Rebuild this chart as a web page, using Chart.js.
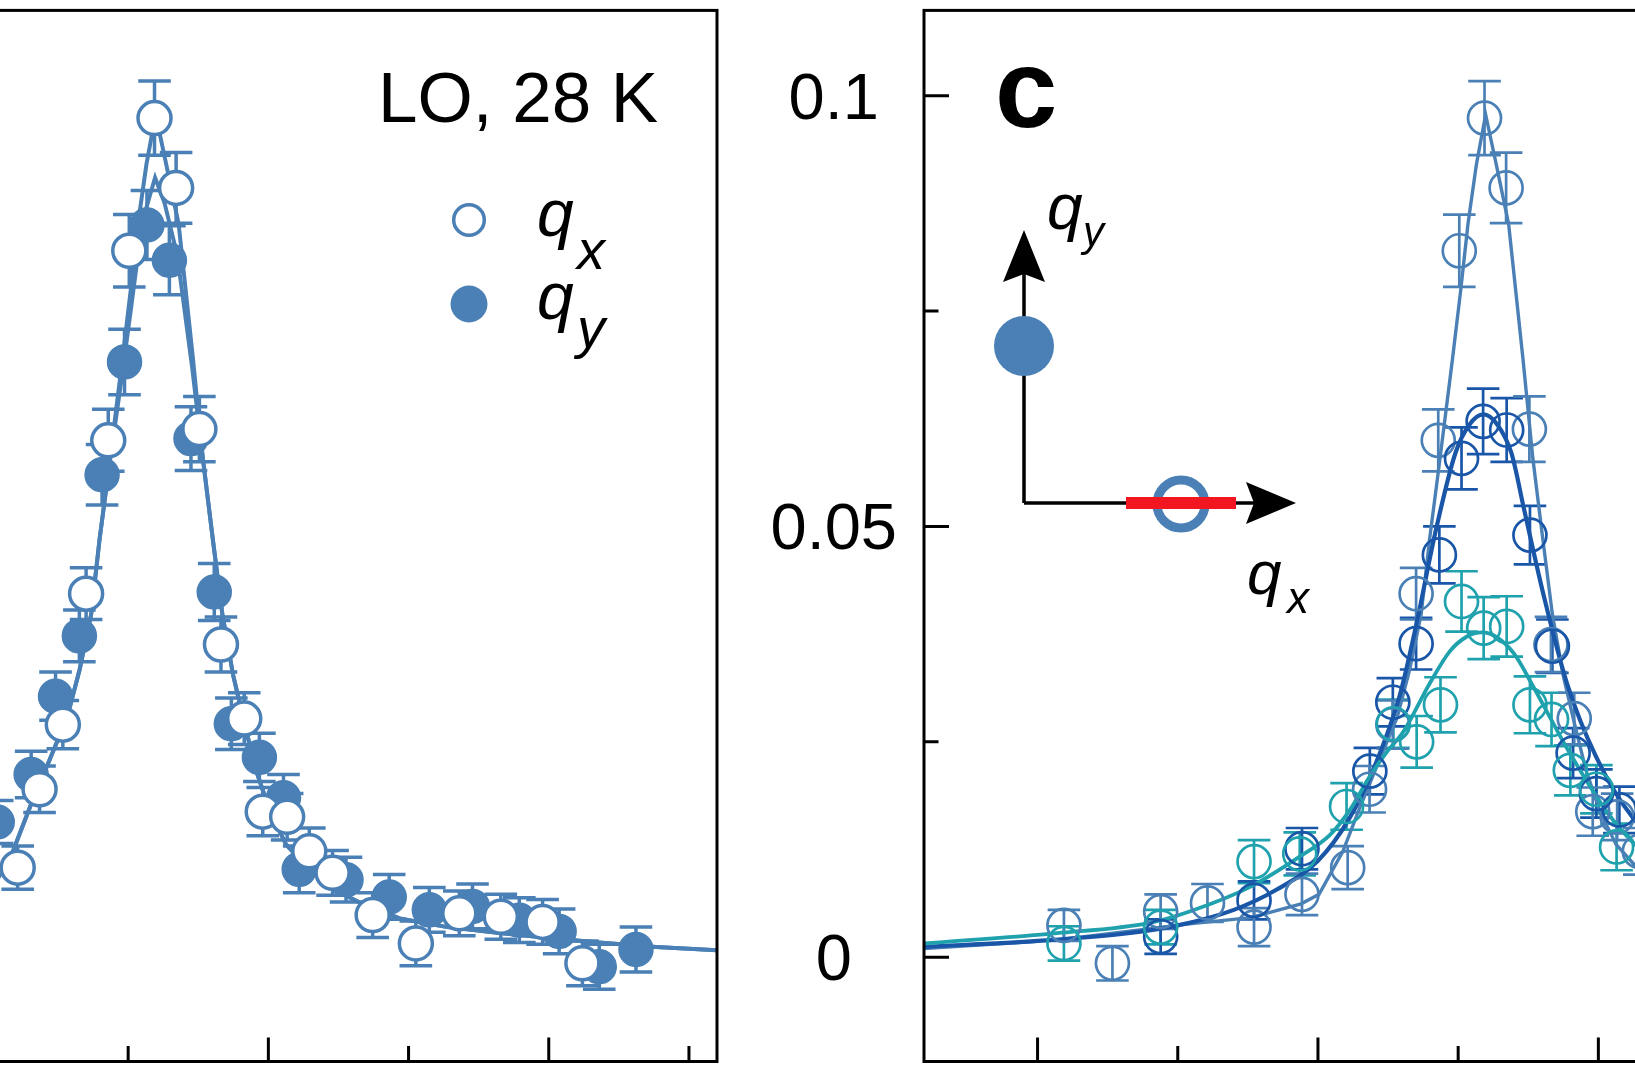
<!DOCTYPE html>
<html>
<head>
<meta charset="utf-8">
<script src="https://cdn.jsdelivr.net/npm/chart.js@4.4.0/dist/chart.umd.min.js"></script>
<style>
  html, body { margin: 0; padding: 0; background: #fff; }
  #wrap { position: relative; width: 1635px; height: 1090px; overflow: hidden; background: #fff; }
  canvas { position: absolute; top: 0; }
  #panelB { left: -430px; }
  #panelC { left: 700px; }
</style>
</head>
<body>
<div id="wrap">
  <canvas id="panelB" width="1190" height="1090"></canvas>
  <canvas id="panelC" width="1390" height="1090"></canvas>
</div>
<script>
// axis ranges and ticks (shared by both panels)
const xMin = -0.1405, xMax = 0.26;
const yMin = -0.0121, yMax = 0.1099;
const xTickValues = [-0.1, -0.05, 0, 0.05, 0.1, 0.15, 0.2, 0.25];
const xTickMajor = [true, false, true, false, true, false, true, false];
const yTickValues = [0, 0.025, 0.05, 0.075, 0.1];
const yTickLabels = ['0', '', '0.05', '', '0.1'];

// LO, 28 K, cut along qx (open, light blue)
const qxX = [-0.0906, -0.0733, -0.0561, -0.0394, -0.0228, -0.0057, 0.0106, 0.0184, 0.0267, 0.0350,
             0.0429, 0.0504, 0.0594, 0.0671, 0.0754, 0.0831, 0.0914, 0.0980, 0.1067, 0.1146,
             0.1229, 0.1372, 0.1526, 0.1681, 0.1829, 0.1978, 0.2120];
const qxY = [0.0037, -0.0007, 0.0053, 0.0063, 0.0035, 0.0073, 0.0104, 0.0195, 0.0270, 0.0422,
             0.0600, 0.0820, 0.0974, 0.0893, 0.0613, 0.0363, 0.0277, 0.0169, 0.0163, 0.0123,
             0.0098, 0.0049, 0.0016, 0.0051, 0.0047, 0.0041, -0.0007];
const qxErr = [0.0018, 0.0020, 0.0020, 0.0022, 0.0022, 0.0024, 0.0025, 0.0027, 0.0028, 0.0030,
               0.0036, 0.0042, 0.0043, 0.0041, 0.0038, 0.0032, 0.0030, 0.0028, 0.0027, 0.0027,
               0.0026, 0.0026, 0.0026, 0.0026, 0.0026, 0.0026, 0.0026];

// LO, 28 K, cut along qy (filled)
const qyX = [0.0033, 0.0154, 0.0241, 0.0326, 0.0407, 0.0487, 0.0567, 0.0647, 0.0724, 0.0807,
             0.0868, 0.0968, 0.1054, 0.1110, 0.1277, 0.1431, 0.1574, 0.1728, 0.1895, 0.2037,
             0.2180, 0.2311];
const qyY = [0.0157, 0.0212, 0.0303, 0.0373, 0.0560, 0.0691, 0.0850, 0.0809, 0.0602, 0.0424,
             0.0271, 0.0232, 0.0185, 0.0102, 0.0090, 0.0070, 0.0055, 0.0059, 0.0043, 0.0030,
             -0.0011, 0.0009];
const qyErr = [0.0025, 0.0027, 0.0028, 0.0030, 0.0035, 0.0038, 0.0040, 0.0040, 0.0037, 0.0033,
               0.0030, 0.0028, 0.0027, 0.0027, 0.0026, 0.0026, 0.0026, 0.0026, 0.0026, 0.0026,
               0.0026, 0.0026];

// panel c, dark blue series
const darkX = [-0.0561, -0.0228, -0.0057, 0.0185, 0.0267, 0.0350, 0.0433, 0.0512, 0.0589, 0.0673,
               0.0756, 0.0836, 0.0910, 0.0993, 0.1075];
const darkY = [0.0024, 0.0066, 0.0126, 0.0216, 0.0296, 0.0364, 0.0467, 0.0579, 0.0622, 0.0612,
               0.0490, 0.0361, 0.0237, 0.0190, 0.0171];
const darkErr = [0.0020, 0.0022, 0.0024, 0.0027, 0.0028, 0.0030, 0.0033, 0.0036, 0.0038, 0.0037,
                 0.0034, 0.0031, 0.0029, 0.0028, 0.0027];

// panel c, teal series
const tealX = [-0.0906, -0.0561, -0.0228, -0.0065, 0.0102, 0.0269, 0.0352, 0.0437, 0.0512, 0.0591,
               0.0673, 0.0756, 0.0833, 0.0900, 0.0993, 0.1065];
const tealY = [0.0016, 0.0035, 0.0111, 0.0120, 0.0175, 0.0271, 0.0250, 0.0293, 0.0413, 0.0382,
               0.0384, 0.0293, 0.0276, 0.0217, 0.0195, 0.0128];
const tealErr = [0.0020, 0.0020, 0.0025, 0.0025, 0.0027, 0.0028, 0.0030, 0.0032, 0.0035, 0.0036,
                 0.0035, 0.0033, 0.0031, 0.0029, 0.0028, 0.0027];

// fitted curves
const qxFitX = [-0.1405, -0.093, -0.045, -0.024, -0.006, 0.0004, 0.0089, 0.0152, 0.0231, 0.0283,
                0.0327, 0.0368, 0.0398, 0.0431, 0.0480, 0.0509, 0.0535, 0.0565, 0.0598, 0.0636,
                0.0680, 0.0731, 0.0766, 0.0802, 0.0836, 0.0874, 0.0915, 0.0955, 0.1007, 0.1063,
                0.1138, 0.1231, 0.1342, 0.1468, 0.1639, 0.1825, 0.2011, 0.2178, 0.2383, 0.2600];
const qxFitY = [0.0010, 0.0020, 0.0039, 0.0046, 0.0062, 0.0073, 0.0123, 0.0176, 0.0238, 0.0279,
                0.0334, 0.0398, 0.0485, 0.0568, 0.0695, 0.0774, 0.0851, 0.0920, 0.0978, 0.0920,
                0.0851, 0.0695, 0.0580, 0.0485, 0.0398, 0.0328, 0.0271, 0.0218, 0.0168, 0.0131,
                0.0104, 0.0079, 0.0061, 0.0045, 0.0035, 0.0028, 0.0022, 0.0017, 0.0012, 0.0008];
const qyFitX = [-0.1405, -0.093, -0.045, -0.024, -0.006, 0.0004, 0.0089, 0.0152, 0.0231, 0.0283,
                0.0327, 0.0368, 0.0398, 0.0431, 0.0480, 0.0509, 0.0535, 0.0565, 0.0596, 0.0630,
                0.0675, 0.0728, 0.0766, 0.0802, 0.0836, 0.0874, 0.0915, 0.0955, 0.1007, 0.1063,
                0.1138, 0.1231, 0.1342, 0.1468, 0.1639, 0.1825, 0.2011, 0.2178, 0.2383, 0.2600];
const qyFitY = [0.0010, 0.0020, 0.0039, 0.0046, 0.0062, 0.0073, 0.0123, 0.0176, 0.0238, 0.0279,
                0.0334, 0.0398, 0.0485, 0.0566, 0.0680, 0.0750, 0.0815, 0.0870, 0.0905, 0.0875,
                0.0815, 0.0685, 0.0580, 0.0485, 0.0398, 0.0328, 0.0271, 0.0218, 0.0168, 0.0131,
                0.0104, 0.0079, 0.0061, 0.0045, 0.0035, 0.0028, 0.0022, 0.0017, 0.0012, 0.0008];
const darkFitX = [-0.1405, -0.10, -0.07, -0.05, -0.03, -0.015, 0.0, 0.011, 0.020, 0.029,
                  0.035, 0.042, 0.049, 0.054, 0.059, 0.064, 0.069, 0.0735, 0.0805, 0.0888,
                  0.0993, 0.1123, 0.13, 0.16, 0.20, 0.26];
const darkFitY = [0.0012, 0.0019, 0.0027, 0.0037, 0.0055, 0.0078, 0.0112, 0.0160, 0.0220, 0.0302,
                  0.0385, 0.0495, 0.0585, 0.0618, 0.0630, 0.0618, 0.0585, 0.0520, 0.0420, 0.0318,
                  0.0232, 0.0162, 0.0112, 0.0068, 0.0040, 0.0023];
const tealFitX = [-0.1405, -0.093, -0.06, -0.045, -0.024, -0.0064, 0.0043, 0.0114, 0.0185, 0.0250,
                  0.0305, 0.0399, 0.0470, 0.0530, 0.0585, 0.0640, 0.0700, 0.0768, 0.0898, 0.1053,
                  0.12, 0.15, 0.20, 0.26];
const tealFitY = [0.0016, 0.0028, 0.0040, 0.0054, 0.0082, 0.0117, 0.0142, 0.0171, 0.0210, 0.0240,
                  0.0262, 0.0318, 0.0355, 0.0372, 0.0377, 0.0371, 0.0352, 0.0314, 0.0237, 0.0159,
                  0.0112, 0.0068, 0.0037, 0.0021];

const steel = '#4a80b5';
const dark = '#1a56a8';
const teal = '#1fa2ad';
const FONT = '"Liberation Sans", Arial, Helvetica, sans-serif';
const offB = -430, offC = 700;   // canvas left edges on the page

function pts(xs, ys) {
    return xs.map((x, i) => ({ x: x, y: ys[i] }));
}

// vertical error bars with caps, drawn under the markers
const errorBars = {
    id: 'errorBars',
    beforeDatasetsDraw(chart) {
        const { ctx, chartArea: a, scales: { x, y } } = chart;
        ctx.save();
        ctx.beginPath();
        ctx.rect(a.left, a.top, a.right - a.left, a.bottom - a.top);
        ctx.clip();
        chart.data.datasets.forEach(ds => {
            if (!ds.err) return;
            ctx.strokeStyle = ds.pointBorderColor;
            ctx.lineWidth = ds.errWidth;
            ds.data.forEach((p, i) => {
                const px = x.getPixelForValue(p.x);
                const top = y.getPixelForValue(p.y + ds.err[i]);
                const bot = y.getPixelForValue(p.y - ds.err[i]);
                ctx.beginPath();
                ctx.moveTo(px, top); ctx.lineTo(px, bot);
                ctx.moveTo(px - ds.cap, top); ctx.lineTo(px + ds.cap, top);
                ctx.moveTo(px - ds.cap, bot); ctx.lineTo(px + ds.cap, bot);
                ctx.stroke();
            });
        });
        ctx.restore();
    }
};

// box frame and inward tick marks
function frameTicks(withY) {
    return {
        id: 'frameTicks',
        afterDraw(chart) {
            const { ctx, chartArea: a, scales: { x, y } } = chart;
            ctx.save();
            ctx.strokeStyle = '#000';
            ctx.lineWidth = 3;
            ctx.strokeRect(a.left, a.top, a.right - a.left, a.bottom - a.top);
            ctx.beginPath();
            xTickValues.forEach((v, i) => {
                const px = x.getPixelForValue(v);
                ctx.moveTo(px, a.bottom);
                ctx.lineTo(px, a.bottom - (xTickMajor[i] ? 24 : 15.5));
            });
            if (withY) {
                yTickValues.forEach((v, i) => {
                    const py = y.getPixelForValue(v);
                    ctx.moveTo(a.left, py);
                    ctx.lineTo(a.left + (yTickLabels[i] ? 25 : 14.5), py);
                });
            }
            ctx.stroke();
            ctx.restore();
        }
    };
}

function arrowHead(ctx, tx, ty, dx, dy, len, half, notch) {
    const bx = tx - dx * len, by = ty - dy * len;
    const nx = -dy, ny = dx;
    ctx.beginPath();
    ctx.moveTo(tx, ty);
    ctx.lineTo(bx + nx * half, by + ny * half);
    ctx.lineTo(tx - dx * (len - notch), ty - dy * (len - notch));
    ctx.lineTo(bx - nx * half, by - ny * half);
    ctx.closePath();
    ctx.fill();
}

// texts and legend of panel b
const labelsB = {
    id: 'labelsB',
    afterDraw(chart) {
        const ctx = chart.ctx;
        const o = -offB;
        ctx.save();
        ctx.textBaseline = 'alphabetic';
        ctx.fillStyle = '#000';
        ctx.font = '71px ' + FONT;
        ctx.fillText('LO, 28 K', 378 + o, 122);

        ctx.beginPath();
        ctx.arc(469 + o, 220, 15.3, 0, 2 * Math.PI);
        ctx.fillStyle = '#fff';
        ctx.fill();
        ctx.lineWidth = 3.5;
        ctx.strokeStyle = steel;
        ctx.stroke();
        ctx.beginPath();
        ctx.arc(469 + o, 304, 18.5, 0, 2 * Math.PI);
        ctx.fillStyle = steel;
        ctx.fill();

        ctx.fillStyle = '#000';
        ctx.font = 'italic 66px ' + FONT;
        ctx.fillText('q', 537 + o, 236);
        ctx.fillText('q', 537 + o, 319);
        ctx.font = 'italic 56px ' + FONT;
        ctx.fillText('x', 577 + o, 269);
        ctx.fillText('y', 577 + o, 347);
        ctx.restore();
    }
};

// panel letter and cut-direction sketch of panel c
const labelsC = {
    id: 'labelsC',
    afterDraw(chart) {
        const ctx = chart.ctx;
        const o = -offC;
        ctx.save();
        ctx.fillStyle = '#000';
        ctx.textBaseline = 'alphabetic';
        ctx.font = 'bold 112px ' + FONT;
        ctx.fillText('c', 995 + o, 127);

        ctx.strokeStyle = '#000';
        ctx.lineWidth = 3.5;
        ctx.beginPath();
        ctx.moveTo(1024 + o, 503);
        ctx.lineTo(1024 + o, 270);
        ctx.moveTo(1024 + o, 503);
        ctx.lineTo(1260 + o, 503);
        ctx.stroke();
        arrowHead(ctx, 1024 + o, 230, 0, -1, 52, 21, 8);
        arrowHead(ctx, 1296 + o, 503, 1, 0, 50, 21, 8);

        ctx.fillStyle = steel;
        ctx.beginPath();
        ctx.arc(1024 + o, 346, 30, 0, 2 * Math.PI);
        ctx.fill();
        ctx.strokeStyle = steel;
        ctx.lineWidth = 9;
        ctx.beginPath();
        ctx.arc(1181 + o, 504, 24, 0, 2 * Math.PI);
        ctx.stroke();
        ctx.fillStyle = '#f21620';
        ctx.fillRect(1126 + o, 497, 110, 12);

        ctx.fillStyle = '#000';
        ctx.font = 'italic 64px ' + FONT;
        ctx.fillText('q', 1047 + o, 229);
        ctx.font = 'italic 42px ' + FONT;
        ctx.fillText('y', 1083 + o, 246);
        ctx.font = 'italic 62px ' + FONT;
        ctx.fillText('q', 1247 + o, 594);
        ctx.font = 'italic 44px ' + FONT;
        ctx.fillText('x', 1287 + o, 613);
        ctx.restore();
    }
};

function openPoints(xs, ys, err, color, fill, radius, width, order) {
    return {
        data: pts(xs, ys), err: err, showLine: false,
        pointRadius: radius, pointBorderWidth: width,
        pointBackgroundColor: fill, pointBorderColor: color, borderColor: color,
        errWidth: width, cap: 16.3, order: order
    };
}

function fitLine(xs, ys, color, width, smooth, order) {
    const ds = {
        data: pts(xs, ys), showLine: true, pointRadius: 0,
        borderColor: color, borderWidth: width, order: order
    };
    if (smooth) ds.cubicInterpolationMode = 'monotone';
    return ds;
}

const baseX = { type: 'linear', min: xMin, max: xMax, display: false };

// panel b
new Chart(document.getElementById('panelB'), {
    type: 'scatter',
    data: {
        datasets: [
            openPoints(qxX, qxY, qxErr, steel, '#fff', 16.5, 3.5, 0),
            Object.assign(openPoints(qyX, qyY, qyErr, steel, steel, 17, 1.5, 1), { errWidth: 3.5 }),
            fitLine(qxFitX, qxFitY, steel, 4, false, 5),
            fitLine(qyFitX, qyFitY, steel, 4, false, 6)
        ]
    },
    options: {
        responsive: false,
        animation: false,
        layout: { autoPadding: false, padding: { left: 24, right: 43, top: 10.4, bottom: 28.5 } },
        scales: {
            x: baseX,
            y: { type: 'linear', min: yMin, max: yMax, display: false }
        },
        plugins: { legend: { display: false }, tooltip: { enabled: false } }
    },
    plugins: [errorBars, frameTicks(false), labelsB]
});

// panel c
new Chart(document.getElementById('panelC'), {
    type: 'scatter',
    data: {
        datasets: [
            openPoints(tealX, tealY, tealErr, teal, 'rgba(0,0,0,0)', 16.5, 2.7, 0),
            openPoints(darkX, darkY, darkErr, dark, 'rgba(0,0,0,0)', 16.5, 2.7, 1),
            openPoints(qxX, qxY, qxErr, steel, 'rgba(0,0,0,0)', 16.5, 2.7, 2),
            fitLine(tealFitX, tealFitY, teal, 3.8, true, 5),
            fitLine(darkFitX, darkFitY, dark, 4.2, true, 6),
            fitLine(qxFitX, qxFitY, steel, 3.4, false, 7)
        ]
    },
    options: {
        responsive: false,
        animation: false,
        layout: { autoPadding: false, padding: { left: 0, right: 43, top: 10.4, bottom: 28.5 } },
        scales: {
            x: baseX,
            y: {
                type: 'linear', min: yMin, max: yMax, position: 'left',
                grid: { display: false, drawTicks: false },
                border: { display: false },
                ticks: {
                    stepSize: 0.025,
                    includeBounds: false,
                    autoSkip: false,
                    padding: 27,
                    labelOffset: 5,
                    crossAlign: 'center',
                    color: '#000',
                    font: { family: FONT, size: 65 },
                    callback: function(v) {
                        const i = yTickValues.findIndex(t => Math.abs(t - v) < 1e-9);
                        return i >= 0 ? yTickLabels[i] : '';
                    }
                },
                afterFit: function(s) {
                    s.width = 224;
                    s.paddingTop = 0;
                    s.paddingBottom = 0;
                }
            }
        },
        plugins: { legend: { display: false }, tooltip: { enabled: false } }
    },
    plugins: [errorBars, frameTicks(true), labelsC]
});
</script>
</body>
</html>
